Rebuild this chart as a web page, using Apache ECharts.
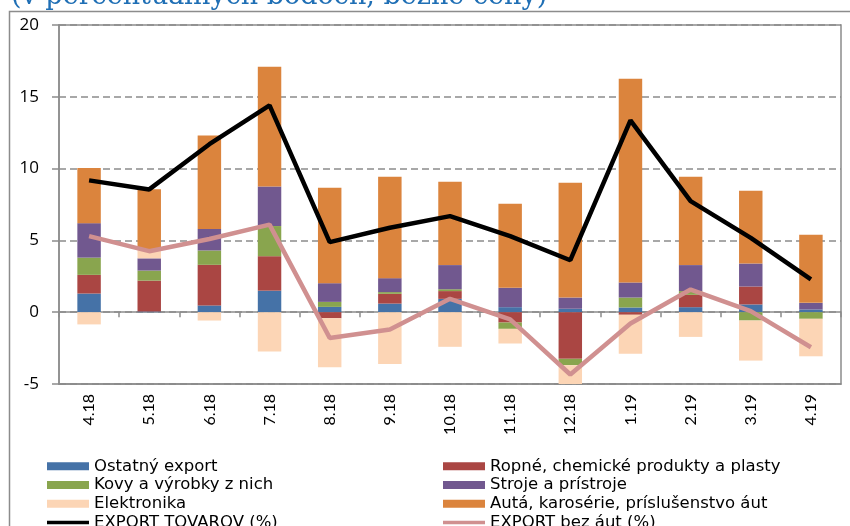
<!DOCTYPE html>
<html>
<head>
<meta charset="utf-8">
<script src="https://cdn.jsdelivr.net/npm/echarts@6/dist/echarts.min.js"></script>
<style>
  html, body { margin: 0; padding: 0; background: #fff; }
  #chart { width: 850px; height: 526px; }
</style>
</head>
<body>
<div id="chart"></div>
<script>
const months = ['4.18', '5.18', '6.18', '7.18', '8.18', '9.18', '10.18', '11.18', '12.18', '1.19', '2.19', '3.19', '4.19'];

const ostatny    = [1.3, 0.05, 0.47, 1.5, 0.37, 0.6, 0.93, 0.35, 0.24, 0.33, 0.35, 0.54, 0.19];
const ropne      = [1.3, 2.15, 2.83, 2.4, -0.42, 0.68, 0.54, -0.72, -3.25, -0.18, 0.86, 1.25, 0];
const kovy       = [1.2, 0.7, 1.0, 2.1, 0.35, 0.12, 0.13, -0.44, -0.44, 0.69, 0.26, -0.58, -0.46];
const stroje     = [2.4, 0.85, 1.5, 2.76, 1.3, 0.97, 1.68, 1.35, 0.78, 1.05, 1.81, 1.6, 0.46];
const elektronika = [-0.85, 0.6, -0.58, -2.74, -3.41, -3.6, -2.41, -1.02, -1.4, -2.72, -1.72, -2.79, -2.61];
const auta       = [3.85, 4.22, 6.5, 8.34, 6.65, 7.06, 5.8, 5.85, 8.0, 14.19, 6.15, 5.07, 4.74];

const exportTovarov = [9.18, 8.55, 11.7, 14.4, 4.88, 5.88, 6.69, 5.3, 3.62, 13.36, 7.74, 5.18, 2.28];
const exportBezAut  = [5.3, 4.25, 5.1, 6.1, -1.79, -1.2, 0.93, -0.5, -4.34, -0.79, 1.58, 0.07, -2.44];

const yTicks = { min: -5, max: 20, step: 5 };

const font = 'Lato';
const legendFont = 'DejaVu Sans';
const chart = echarts.init(document.getElementById('chart'));

function bar(name, data, color) {
    return {
        name: name,
        type: 'bar',
        stack: 'total',
        barWidth: '39%',
        data: data,
        itemStyle: { color: color },
        z: 2
    };
}

function line(name, data, color) {
    return {
        name: name,
        type: 'line',
        data: data,
        symbol: 'none',
        lineStyle: { color: color, width: 4.5 },
        itemStyle: { color: color },
        z: 5
    };
}

// bars: flat rectangle; lines: thin bar in the middle of the icon box (no dot)
const lineIcon = 'path://M0,0L0.01,0M0,2.3L42,2.3L42,5.7L0,5.7ZM0,8L0.01,8';
const lineNames = ['EXPORT TOVAROV (%)', 'EXPORT bez áut (%)'];

function legendItems(names) {
    return names.map(n => ({ name: n, icon: lineNames.indexOf(n) >= 0 ? lineIcon : 'rect' }));
}

const legendCommon = {
    orient: 'vertical',
    top: 457,
    height: 120,
    padding: 0,
    itemWidth: 42,
    itemHeight: 8,
    itemGap: 0,
    textStyle: { fontFamily: legendFont, fontSize: 16.5, lineHeight: 18.7, color: '#000' }
};

chart.setOption({
    animation: false,
    graphic: [
        {
            type: 'rect',
            shape: { x: 9.5, y: 11.5, width: 900, height: 600 },
            style: { fill: 'none', stroke: '#8c8c8c', lineWidth: 1.5 },
            silent: true
        },
        {
            type: 'text',
            left: 11,
            top: -17,
            style: {
                text: '(v percentuálnych bodoch, bežné ceny)',
                fill: '#1f6fb5',
                font: '27px "DejaVu Serif"'
            }
        }
    ],
    grid: {
        left: 59,
        right: 9,
        top: 25,
        bottom: 142,
        show: true,
        borderColor: '#8c8c8c',
        borderWidth: 1.5
    },
    legend: [
        Object.assign({}, legendCommon, {
            left: 47,
            data: legendItems(['Ostatný export', 'Kovy a výrobky z nich', 'Elektronika', 'EXPORT TOVAROV (%)'])
        }),
        Object.assign({}, legendCommon, {
            left: 443,
            data: legendItems(['Ropné, chemické produkty a plasty', 'Stroje a prístroje', 'Autá, karosérie, príslušenstvo áut', 'EXPORT bez áut (%)'])
        })
    ],
    xAxis: [
        {
            type: 'category',
            data: months,
            position: 'bottom',
            axisLine: { onZero: false, lineStyle: { color: '#8c8c8c', width: 1.5 } },
            axisTick: { show: false },
            axisLabel: { rotate: 90, margin: 10, fontFamily: font, fontSize: 16, color: '#000' }
        },
        {
            type: 'category',
            data: months,
            position: 'bottom',
            axisLine: { onZero: true, lineStyle: { color: '#8c8c8c', width: 1.5 } },
            axisTick: { show: true, length: 5, lineStyle: { color: '#8c8c8c', width: 1.5 } },
            axisLabel: { show: false }
        }
    ],
    yAxis: {
        type: 'value',
        min: yTicks.min,
        max: yTicks.max,
        interval: yTicks.step,
        axisLine: { show: true, lineStyle: { color: '#8c8c8c', width: 1.5 } },
        axisTick: { show: true, length: 7, lineStyle: { color: '#8c8c8c', width: 1.5 } },
        axisLabel: { fontFamily: 'Open Sans', fontSize: 17, color: '#000', margin: 20 },
        splitLine: { lineStyle: { type: [7, 4], color: '#8c8c8c', width: 1.5 } }
    },
    series: [
        bar('Ostatný export', ostatny, '#4572a7'),
        bar('Ropné, chemické produkty a plasty', ropne, '#aa4643'),
        bar('Kovy a výrobky z nich', kovy, '#89a54e'),
        bar('Stroje a prístroje', stroje, '#71588f'),
        bar('Elektronika', elektronika, '#fcd5b5'),
        bar('Autá, karosérie, príslušenstvo áut', auta, '#db843d'),
        line('EXPORT TOVAROV (%)', exportTovarov, '#000000'),
        line('EXPORT bez áut (%)', exportBezAut, '#d09090')
    ]
});
</script>
</body>
</html>
